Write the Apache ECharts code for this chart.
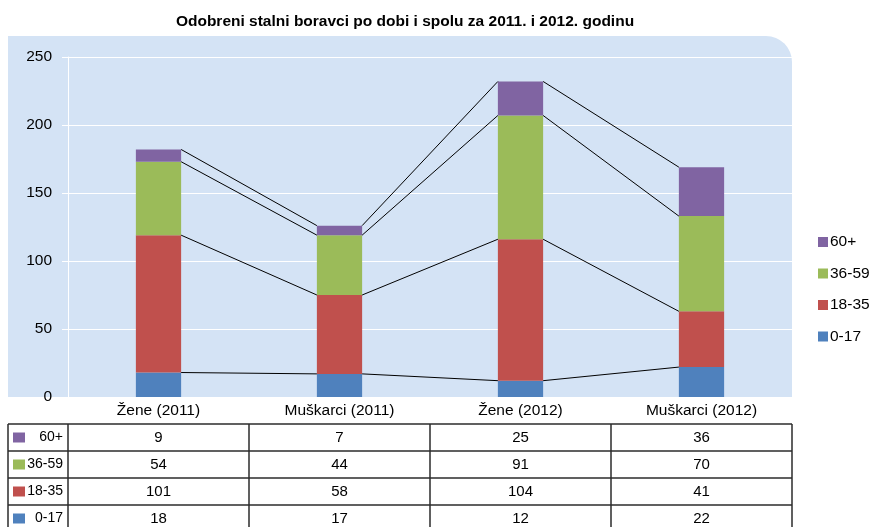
<!DOCTYPE html>
<html>
<head>
<meta charset="utf-8">
<script src="https://cdn.jsdelivr.net/npm/echarts@6/dist/echarts.min.js"></script>
<style>
html, body { margin: 0; padding: 0; background: #fff; }
#mycharts { width: 872px; height: 527px; }
</style>
</head>
<body>
<div id="mycharts"></div>
<script>
// podaci
var categories = ['Žene (2011)', 'Muškarci (2011)', 'Žene (2012)', 'Muškarci (2012)'];
var groups = ['0-17', '18-35', '36-59', '60+'];
var g0_17 = [18, 17, 12, 22];
var g18_35 = [101, 58, 104, 41];
var g36_59 = [54, 44, 91, 70];
var g60 = [9, 7, 25, 36];
var colors = ['#4f81bd', '#c0504d', '#9bbb59', '#8064a2'];
var values = [g0_17, g18_35, g36_59, g60];

var fontFam = 'Liberation Sans, Arial, sans-serif';
var myChart = echarts.init(document.getElementById('mycharts'));

// kumulativne vrijednosti za spojne linije
var cum = [];
var run = [0, 0, 0, 0];
for (var k = 0; k < values.length; k++) {
    run = run.map(function (r, i) { return r + values[k][i]; });
    cum.push(run.slice());
}

var series = [];
for (var k = 0; k < groups.length; k++) {
    series.push({
        name: groups[k],
        type: 'bar',
        stack: 'total',
        barWidth: '25%',
        data: values[k],
        itemStyle: { color: colors[k] },
        z: 3
    });
}
for (var k = 0; k < cum.length; k++) {
    var lineData = [];
    for (var i = 0; i < categories.length - 1; i++) {
        lineData.push([i, cum[k][i], cum[k][i + 1]]);
    }
    series.push({
        type: 'custom',
        name: 'line' + k,
        silent: true,
        z: 4,
        encode: { x: 0, y: 1 },
        data: lineData,
        renderItem: function (params, api) {
            var i = api.value(0);
            var a = api.coord([i, api.value(1)]);
            var b = api.coord([i + 1, api.value(2)]);
            var half = api.size([1, 0])[0] * 0.25 / 2;
            return {
                type: 'line',
                shape: { x1: a[0] + half, y1: a[1], x2: b[0] - half, y2: b[1] },
                style: { stroke: '#000', lineWidth: 1 }
            };
        }
    });
}

var option = {
    animation: false,
    title: {
        text: 'Odobreni stalni boravci po dobi i spolu za 2011. i 2012. godinu',
        left: 400,
        textAlign: 'center',
        top: 9,
        textStyle: { fontSize: 15.5, fontWeight: 'bold', color: '#000', fontFamily: fontFam }
    },
    legend: {
        data: ['60+', '36-59', '18-35', '0-17'],
        orient: 'vertical',
        left: 813,
        top: 229,
        itemWidth: 10,
        itemHeight: 10,
        itemGap: 15.5,
        icon: 'rect',
        textStyle: { fontSize: 15.5, color: '#000', fontFamily: fontFam, padding: [0, 0, 0, -3] }
    },
    grid: { left: 68, right: 80, top: 57, bottom: 130, containLabel: false },
    xAxis: {
        type: 'category',
        data: categories,
        axisLine: { show: true, lineStyle: { color: '#ffffff', width: 1 } },
        axisTick: { show: false },
        axisLabel: { color: '#000', fontSize: 15.5, fontFamily: fontFam, margin: 6 },
        splitLine: { show: false }
    },
    yAxis: {
        type: 'value',
        min: 0,
        max: 250,
        interval: 50,
        axisLine: { show: true, lineStyle: { color: '#ffffff', width: 1 } },
        axisTick: { show: true, length: 6, lineStyle: { color: '#ffffff' } },
        axisLabel: { color: '#000', fontSize: 15.5, fontFamily: fontFam, margin: 16 },
        splitLine: { show: true, lineStyle: { color: '#ffffff', width: 1 } }
    },
    series: series
};

myChart.setOption(option);

// pozadina i tablica s podacima
var centers = categories.map(function (c, i) {
    return myChart.convertToPixel({ xAxisIndex: 0 }, i);
});
var colW = centers[1] - centers[0];
var plotLeft = 8, plotTop = 36;
var axisX = centers[0] - colW / 2;
var plotRight = centers[centers.length - 1] + colW / 2;
var plotBottom = myChart.convertToPixel({ yAxisIndex: 0 }, 0);

var elements = [{
    type: 'rect',
    z: -10,
    shape: { x: plotLeft, y: plotTop, width: plotRight - plotLeft, height: plotBottom - plotTop, r: [0, 26, 0, 0] },
    style: { fill: '#d4e3f5' }
}];

var tTop = 424, rowH = 27;
var rowOrder = [3, 2, 1, 0];
var lineCol = '#2b2b2b';
var colEdges = [plotLeft, axisX];
for (var i = 0; i < categories.length; i++) colEdges.push(axisX + colW * (i + 1));
var tBottom = tTop + rowH * rowOrder.length;
colEdges.forEach(function (x) {
    elements.push({ type: 'line', z: 10, shape: { x1: x, y1: tTop, x2: x, y2: tBottom }, style: { stroke: lineCol, lineWidth: 1.5 } });
});
for (var r = 0; r <= rowOrder.length; r++) {
    var y = tTop + rowH * r;
    elements.push({ type: 'line', z: 10, shape: { x1: plotLeft, y1: y, x2: colEdges[colEdges.length - 1], y2: y }, style: { stroke: lineCol, lineWidth: 1.5 } });
}
rowOrder.forEach(function (k, r) {
    var cy = tTop + rowH * r + rowH / 2;
    elements.push({ type: 'rect', z: 10, shape: { x: 13, y: cy - 5, width: 12, height: 10 }, style: { fill: colors[k] } });
    elements.push({ type: 'text', z: 10, style: { x: axisX - 5, y: cy, text: groups[k], textAlign: 'right', textVerticalAlign: 'middle', fill: '#000', font: '14px ' + fontFam } });
    values[k].forEach(function (v, i) {
        elements.push({ type: 'text', z: 10, style: { x: centers[i], y: cy, text: String(v), textAlign: 'center', textVerticalAlign: 'middle', fill: '#000', font: '15px ' + fontFam } });
    });
});

myChart.setOption({ graphic: { elements: elements } });
</script>
</body>
</html>
